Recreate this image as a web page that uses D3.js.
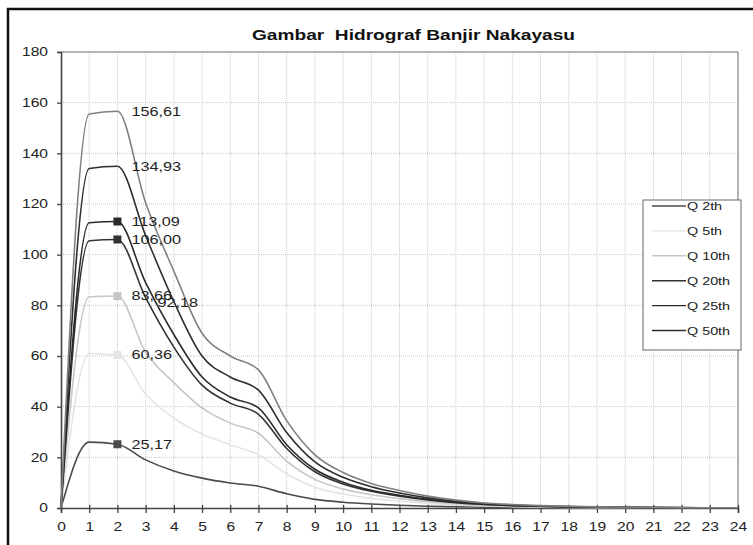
<!DOCTYPE html>
<html lang="en">
<head>
    <meta charset="UTF-8">
    <title>Hidrograf Banjir Nakayasu</title>
    <script src="https://d3js.org/d3.v7.min.js"></script>
    <style>
        body { margin: 0; background: #fff; font-family: "Liberation Sans", Arial, sans-serif; }
        .grid line { stroke: #c8c8c8; stroke-dasharray: 1,1; }
        .tick text { font-size: 12px; fill: #222; }
    </style>
</head>
<body>
<svg id="chart"></svg>
<script>
    // jam ke-
    var hours = d3.range(0, 25);
    var yTicks = [0, 20, 40, 60, 80, 100, 120, 140, 160, 180];

    // debit tiap kala ulang (m3/dt)
    var q2th   = [0, 26.0, 25.17, 19.0, 14.6, 11.8, 9.9, 8.6, 5.6, 3.4, 2.3, 1.6, 1.1, 0.7, 0.5, 0.33, 0.22, 0.15, 0.1, 0.07, 0.05, 0.04, 0.03, 0.02, 0.01];
    var q5th   = [0, 61.0, 60.36, 45.0, 35.5, 29.2, 25.0, 21.0, 13.5, 8.2, 5.5, 3.8, 2.7, 1.8, 1.2, 0.8, 0.55, 0.36, 0.24, 0.17, 0.12, 0.09, 0.06, 0.04, 0.03];
    var q10th  = [0, 83.4, 83.66, 61.5, 49.5, 39.5, 33.5, 29.5, 18.5, 11.3, 7.5, 5.2, 3.7, 2.5, 1.7, 1.1, 0.75, 0.5, 0.33, 0.24, 0.17, 0.12, 0.08, 0.06, 0.04];
    var q20th  = [0, 105.5, 106.00, 83.0, 63.5, 48.5, 41.4, 37.0, 23.5, 14.3, 9.5, 6.6, 4.7, 3.2, 2.1, 1.4, 0.95, 0.64, 0.42, 0.3, 0.21, 0.15, 0.1, 0.07, 0.05];
    var q25th  = [0, 112.6, 113.09, 89.0, 68.5, 51.7, 43.8, 39.5, 25.0, 15.3, 10.2, 7.0, 5.0, 3.4, 2.3, 1.5, 1.0, 0.68, 0.45, 0.32, 0.23, 0.16, 0.11, 0.08, 0.06];
    var q50th  = [0, 134.0, 134.93, 107.5, 81.5, 60.0, 51.7, 46.5, 29.8, 18.2, 12.1, 8.4, 5.9, 4.0, 2.7, 1.8, 1.2, 0.8, 0.54, 0.38, 0.27, 0.2, 0.14, 0.1, 0.07];
    var q100th = [0, 155.5, 156.61, 120.5, 93.5, 69.0, 60.0, 54.5, 34.5, 21.0, 14.0, 9.7, 6.9, 4.7, 3.1, 2.0, 1.4, 0.94, 0.63, 0.44, 0.31, 0.23, 0.16, 0.11, 0.08];

    var series = [
        {name: "Q 2th",   values: q2th,   color: "#4a4a4a", marker: true,  legend: true},
        {name: "Q 5th",   values: q5th,   color: "#e4e4e4", marker: true,  legend: true},
        {name: "Q 10th",  values: q10th,  color: "#c6c6c6", marker: true,  legend: true},
        {name: "Q 20th",  values: q20th,  color: "#333333", marker: true,  legend: true},
        {name: "Q 25th",  values: q25th,  color: "#2a2a2a", marker: true,  legend: true},
        {name: "Q 50th",  values: q50th,  color: "#2e2e2e", marker: false, legend: true},
        {name: "Q 100th", values: q100th, color: "#808080", marker: false, legend: false}
    ];

    // label puncak (jam ke-2)
    var peakLabels = ["25,17", "60,36", "83,66", "106,00", "113,09", "134,93", "156,61"];
    var extraLabel = {text: "92,18", value: 92.18};

    var width = 753, height = 545;
    var mLeft = 61, mTop = 52, mRight = 738, mBottom = 508;
    var stretch = "scale(1.3,1)"; // teks di gambar asli agak melebar

    var svg = d3.select("#chart").attr("width", width).attr("height", height);

    // bingkai luar
    svg.append("path")
        .attr("d", "M8," + (height + 2) + "V9H" + (width + 2))
        .attr("fill", "none").attr("stroke", "#111").attr("stroke-width", 2.5);

    var x = d3.scaleLinear().domain([0, 24]).range([mLeft, mRight]);
    var y = d3.scaleLinear().domain([0, 180]).range([mBottom, mTop]);

    // grid
    svg.append("g").attr("class", "grid")
        .selectAll("line").data(hours.slice(1)).enter().append("line")
        .attr("x1", function (d) { return x(d); }).attr("x2", function (d) { return x(d); })
        .attr("y1", mTop).attr("y2", mBottom);
    svg.append("g").attr("class", "grid")
        .selectAll("line").data(yTicks.slice(1)).enter().append("line")
        .attr("x1", mLeft).attr("x2", mRight)
        .attr("y1", function (d) { return y(d); }).attr("y2", function (d) { return y(d); });

    // garis batas area plot
    svg.append("path")
        .attr("d", "M" + mLeft + "," + mTop + "H" + mRight + "V" + mBottom)
        .attr("fill", "none").attr("stroke", "#777").attr("stroke-width", 1);

    // sumbu
    var yAxis = svg.append("g")
        .attr("transform", "translate(" + mLeft + ",0)")
        .call(d3.axisLeft(y).tickValues(yTicks).tickSize(4).tickPadding(6));
    var xAxis = svg.append("g")
        .attr("transform", "translate(0," + mBottom + ")")
        .call(d3.axisBottom(x).tickValues(hours).tickSize(5).tickPadding(9));
    [yAxis, xAxis].forEach(function (a) {
        a.select(".domain").attr("stroke", "#444").attr("stroke-width", 1.6);
        a.selectAll(".tick line").attr("stroke", "#444").attr("stroke-width", 1.3);
        a.selectAll(".tick text").style("font-family", "Liberation Sans, Arial, sans-serif")
            .attr("transform", stretch);
    });
    xAxis.selectAll(".tick line").attr("y1", -3);

    // judul
    svg.append("text")
        .attr("x", 252).attr("y", 40)
        .attr("textLength", 323).attr("lengthAdjust", "spacingAndGlyphs")
        .style("white-space", "pre")
        .style("font-size", "14.5px").style("font-weight", "bold").style("fill", "#111")
        .text("Gambar  Hidrograf Banjir Nakayasu");

    var line = d3.line()
        .x(function (d, i) { return x(hours[i]); })
        .y(function (d) { return y(d); })
        .curve(d3.curveMonotoneX);

    svg.append("g").selectAll("path").data(series).enter().append("path")
        .attr("d", function (d) { return line(d.values); })
        .attr("fill", "none")
        .attr("stroke", function (d) { return d.color; })
        .attr("stroke-width", 1.6);

    // marker di jam ke-2
    svg.append("g").selectAll("rect").data(series.filter(function (d) { return d.marker; })).enter()
        .append("rect")
        .attr("x", x(2) - 4)
        .attr("y", function (d) { return y(d.values[2]) - 4; })
        .attr("width", 8).attr("height", 8)
        .attr("fill", function (d) { return d.color; });

    function stretchedText(g, px, py, s) {
        return g.append("g").attr("transform", "translate(" + px + "," + py + ")" + stretch)
            .append("text").attr("dy", "0.35em")
            .style("font-size", "12.5px").style("fill", "#222")
            .text(s);
    }

    var lbl = svg.append("g");
    series.forEach(function (d, i) {
        stretchedText(lbl, x(2) + 14, y(d.values[2]), peakLabels[i]);
    });
    stretchedText(lbl, x(2) + 40, y(extraLabel.value) + 28, extraLabel.text);

    // legenda
    var legendItems = series.filter(function (d) { return d.legend; });
    var lg = svg.append("g").attr("transform", "translate(643,200)");
    lg.append("rect").attr("width", 98).attr("height", 150)
        .attr("fill", "#fff").attr("stroke", "#666").attr("stroke-width", 1);
    var li = lg.selectAll("g.item").data(legendItems).enter().append("g")
        .attr("transform", function (d, i) { return "translate(0," + (6 + i * 24.9) + ")"; });
    li.append("line").attr("x1", 9).attr("x2", 43).attr("y1", 0).attr("y2", 0)
        .attr("stroke", function (d) { return d.color; }).attr("stroke-width", 1.4);
    li.append("text").attr("x", 44).attr("dy", "0.35em")
        .attr("transform", "translate(44,0)scale(1.25,1)translate(-44,0)")
        .style("font-size", "11.5px").style("fill", "#222")
        .text(function (d) { return d.name; });
</script>
</body>
</html>
